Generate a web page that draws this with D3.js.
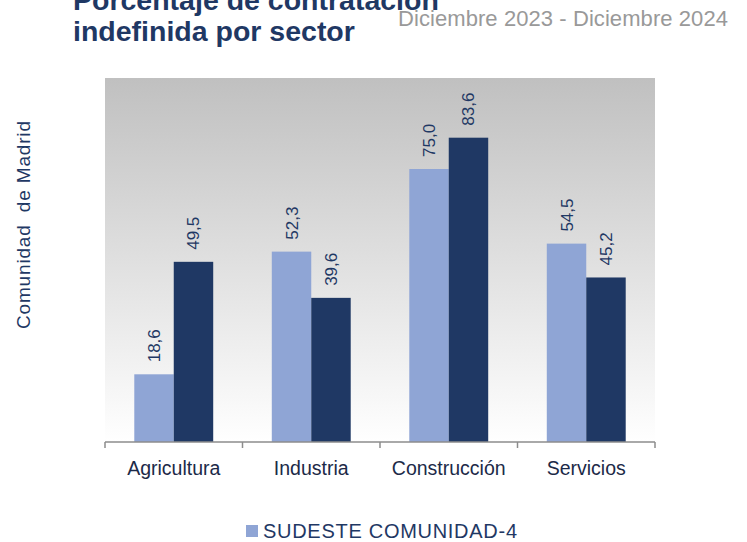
<!DOCTYPE html>
<html><head><meta charset="utf-8">
<script src="https://cdn.jsdelivr.net/npm/d3@7"></script>
<style>body{margin:0;background:#fff}svg{display:block;font-family:"Liberation Sans",Arial,sans-serif}</style>
</head><body>
<svg id="c" width="747" height="542"></svg>
<script>
const categories = ["Agricultura", "Industria", "Construcción", "Servicios"];
const seriesNames = ["SUDESTE COMUNIDAD-4", "Comunidad de Madrid"];
const sudeste = [18.6, 52.3, 75.0, 54.5];
const madrid = [49.5, 39.6, 83.6, 45.2];
const yDomain = [0, 100];

const svg = d3.select("#c");
const navy = "#1F3864", light = "#8FA5D5";
const pL = 105, pR = 655, pT = 78, pB = 442;

const defs = svg.append("defs");
const g = defs.append("linearGradient").attr("id", "bg").attr("x1", 0).attr("y1", 0).attr("x2", 0).attr("y2", 1);
g.append("stop").attr("offset", "0%").attr("stop-color", "#C0C0C0");
g.append("stop").attr("offset", "100%").attr("stop-color", "#FFFFFF");
svg.append("rect").attr("x", pL).attr("y", pT).attr("width", pR - pL).attr("height", pB - pT).attr("fill", "url(#bg)");

const x = d3.scaleBand().domain(categories).range([pL, pR]).padding(0);
const bw = x.bandwidth();
const x1 = d3.scaleBand().domain(seriesNames).range([bw * 0.213, bw * 0.787]).padding(0);
const y = d3.scaleLinear().domain(yDomain).range([pB, pT]);

const data = categories.map((c, i) => ({ c, vals: [sudeste[i], madrid[i]] }));
const colors = [light, navy];

const grp = svg.append("g").selectAll("g").data(data).join("g").attr("transform", d => `translate(${x(d.c)},0)`);
grp.selectAll("rect").data(d => d.vals.map((v, k) => ({ v, k }))).join("rect")
  .attr("x", d => x1(seriesNames[d.k]))
  .attr("y", d => y(d.v))
  .attr("width", x1.bandwidth())
  .attr("height", d => y(0) - y(d.v))
  .attr("fill", d => colors[d.k]);
grp.selectAll("text").data(d => d.vals.map((v, k) => ({ v, k }))).join("text")
  .attr("transform", d => `translate(${x1(seriesNames[d.k]) + x1.bandwidth() / 2 + 6},${y(d.v) - 12}) rotate(-90)`)
  .attr("font-size", 17).attr("fill", navy)
  .text(d => d.v.toFixed(1).replace(".", ","));

// axis
const xa = svg.append("g").attr("transform", `translate(0,${pB})`)
  .call(d3.axisBottom(x).tickSize(0).tickPadding(0).tickFormat(""));
xa.select(".domain").attr("stroke", "#8c8c8c").attr("stroke-width", 1.5).attr("d", `M${pL},0H${pR}`);
const edges = categories.map(c => x(c)).concat([pR]);
xa.selectAll(".edge").data(edges).join("line").attr("class", "edge")
  .attr("x1", d => d).attr("x2", d => d).attr("y1", 0).attr("y2", 6)
  .attr("stroke", "#8c8c8c").attr("stroke-width", 1.5);
xa.selectAll(".lbl").data(categories).join("text").attr("class", "lbl")
  .attr("x", d => x(d) + bw / 2).attr("y", 33).attr("text-anchor", "middle")
  .attr("font-size", 19.5).attr("fill", "#1c2a48").text(d => d);

// y label
svg.append("text").attr("transform", "translate(30,225) rotate(-90)").attr("text-anchor", "middle")
  .attr("font-size", 19).attr("fill", navy).attr("xml:space", "preserve")
  .attr("textLength", 208).attr("lengthAdjust", "spacing").text("Comunidad  de Madrid");

// title
svg.append("text").attr("x", 73).attr("y", 10).attr("font-size", 28.5).attr("font-weight", "bold").attr("fill", navy).text("Porcentaje de contratación");
svg.append("text").attr("x", 73).attr("y", 41).attr("font-size", 28.5).attr("font-weight", "bold").attr("fill", navy).text("indefinida por sector");
svg.append("text").attr("x", 398).attr("y", 26).attr("font-size", 22).attr("fill", "#999999")
  .attr("textLength", 330).attr("lengthAdjust", "spacing").text("Diciembre 2023 - Diciembre 2024");

// legend
const lg = svg.append("g");
lg.append("rect").attr("x", 246).attr("y", 525).attr("width", 12).attr("height", 12).attr("fill", light);
lg.append("text").attr("x", 263).attr("y", 538).attr("font-size", 20).attr("fill", navy)
  .attr("textLength", 254).attr("lengthAdjust", "spacing").text(seriesNames[0]);
</script>
</body></html>
